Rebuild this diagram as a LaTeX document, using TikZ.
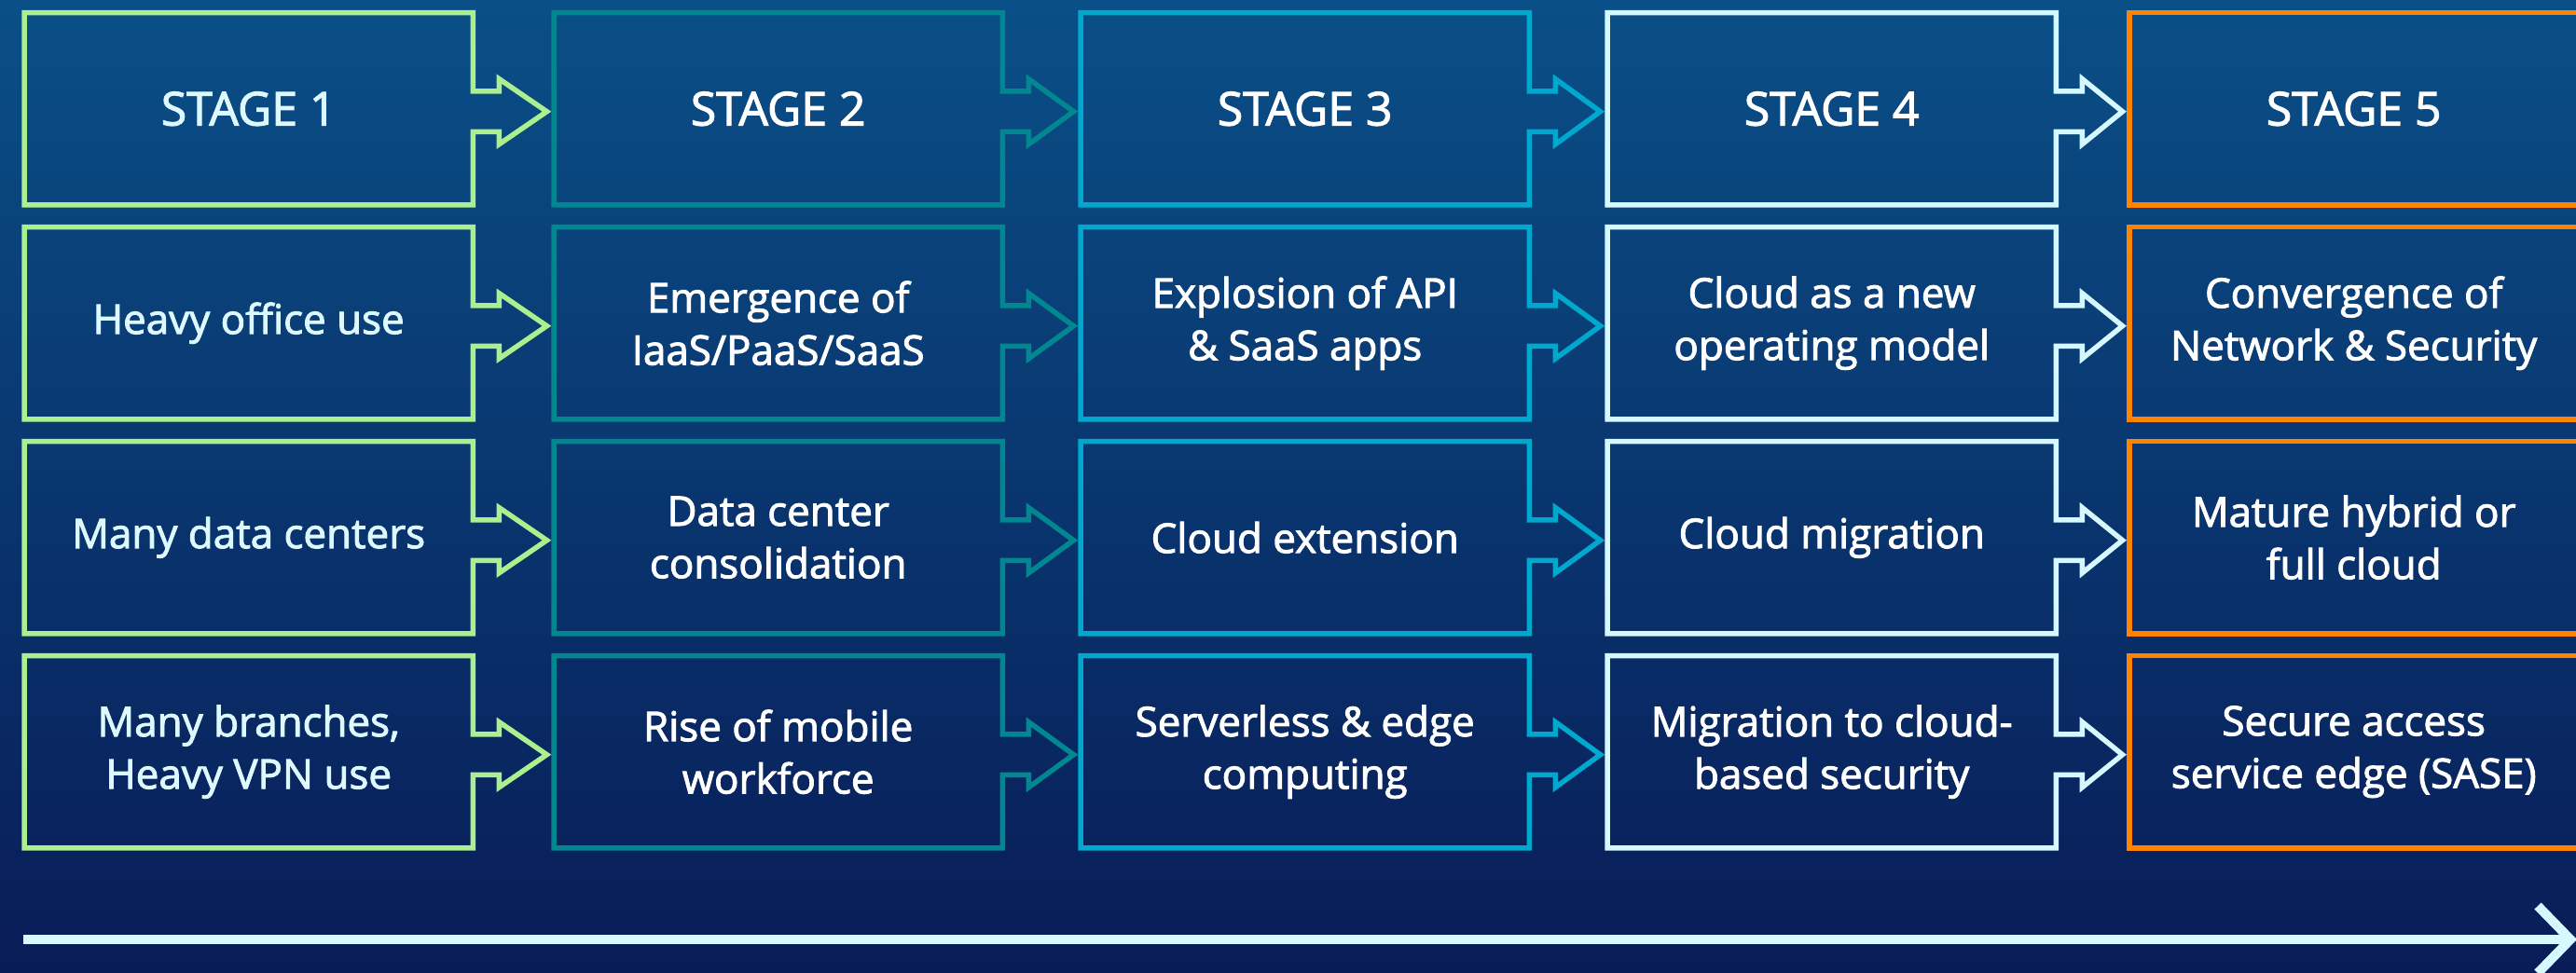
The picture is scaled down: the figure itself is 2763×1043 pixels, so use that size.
\documentclass[tikz,border=0pt]{standalone}
\usepackage{fontspec}
\setmainfont{Open Sans}
\newfontfamily\medfont{Open Sans}[UprightFeatures={FakeBold=2.2}]
\usetikzlibrary{calc}
\definecolor{bgtop}{HTML}{0A4F87}
\definecolor{bgmid}{HTML}{08346E}
\definecolor{bgbot}{HTML}{091C57}
\definecolor{cgreen}{HTML}{ABEF8F}
\definecolor{cteal}{HTML}{00878F}
\definecolor{ccyan}{HTML}{00A8CD}
\definecolor{cpale}{HTML}{D6F8FF}
\definecolor{corange}{HTML}{FF8300}
\definecolor{txtpale}{HTML}{DDF8FF}
\begin{document}
\begin{tikzpicture}[x=0.1mm,y=-0.1mm,
  cell/.style={minimum width=48mm, minimum height=20.5mm, inner sep=0pt,
    align=center, text=white, anchor=north west,
    font=\medfont\fontsize{12.5}{16}\selectfont},
  headcell/.style={cell, font=\medfont\fontsize{14.2}{17}\selectfont},
  firstcol/.style={text=txtpale},
  frame/.style={line width=0.55mm, line join=miter},
  timeline/.style={line width=1mm, cpale, line join=miter},
]
\useasboundingbox (0,0) rectangle (2763,1043);
\shade[top color=bgtop, middle color=bgmid, bottom color=bgbot] (0,0) rectangle (2763,1043);

% column 1
\node[headcell, firstcol] (n11) at (26,13.5)  {STAGE 1};
\node[cell, firstcol]     (n12) at (26,243.5) {Heavy office use};
\node[cell, firstcol]     (n13) at (26,473.5) {Many data centers};
\node[cell, firstcol]     (n14) at (26,703.5) {Many branches,\\Heavy VPN use};
% column 2
\node[headcell] (n21) at (594,13.5)  {STAGE 2};
\node[cell]     (n22) at (594,243.5) {Emergence of\\IaaS/PaaS/SaaS};
\node[cell]     (n23) at (594,473.5) {Data center\\consolidation};
\node[cell]     (n24) at (594,703.5) {Rise of mobile\\workforce};
% column 3
\node[headcell] (n31) at (1159,13.5)  {STAGE 3};
\node[cell]     (n32) at (1159,243.5) {Explosion of API\\\& SaaS apps};
\node[cell]     (n33) at (1159,473.5) {Cloud extension};
\node[cell]     (n34) at (1159,703.5) {Serverless \& edge\\computing};
% column 4
\node[headcell] (n41) at (1724,13.5)  {STAGE 4};
\node[cell]     (n42) at (1724,243.5) {Cloud as a new\\operating model};
\node[cell]     (n43) at (1724,473.5) {Cloud migration};
\node[cell]     (n44) at (1724,703.5) {Migration to cloud-\\based security};
% column 5
\node[headcell] (n51) at (2284,13.5)  {STAGE 5};
\node[cell]     (n52) at (2284,243.5) {Convergence of\\Network \& Security};
\node[cell]     (n53) at (2284,473.5) {Mature hybrid or\\full cloud};
\node[cell]     (n54) at (2284,703.5) {Secure access\\service edge (SASE)};

% boxes of columns 1-4: outline with an arrow pointing into the next box
\foreach \c/\d/\col in {1/2/cgreen, 2/3/cteal, 3/4/ccyan, 4/5/cpale}{
  \foreach \r in {1,...,4}{
    \draw[frame, \col] (n\c\r.north west) -- (n\c\r.north east)
      -- ($(n\c\r.east)+(0,-18.75)$) -- ++(28,0) -- ++(0,-13.25)
      -- ($(n\d\r.west)+(-7.5,3)$)
      -- ($(n\c\r.east)+(28,38)$) -- ++(0,-13.25)
      -- ($(n\c\r.east)+(0,24.75)$) -- (n\c\r.south east)
      -- (n\c\r.south west) -- cycle;
  }
}
% boxes of column 5
\foreach \r in {1,...,4}{
  \draw[frame, corange] (n5\r.north west) rectangle (n5\r.south east);
}

% timeline arrow along the bottom
\coordinate (tstart) at (25,1008);
\coordinate (tend) at (2757,1008);
\draw[timeline] (tstart) -- (tend);
\draw[timeline] ($(tend)+(-35,-36)$) -- (tend) -- ($(tend)+(-35,36)$);
\end{tikzpicture}
\end{document}
